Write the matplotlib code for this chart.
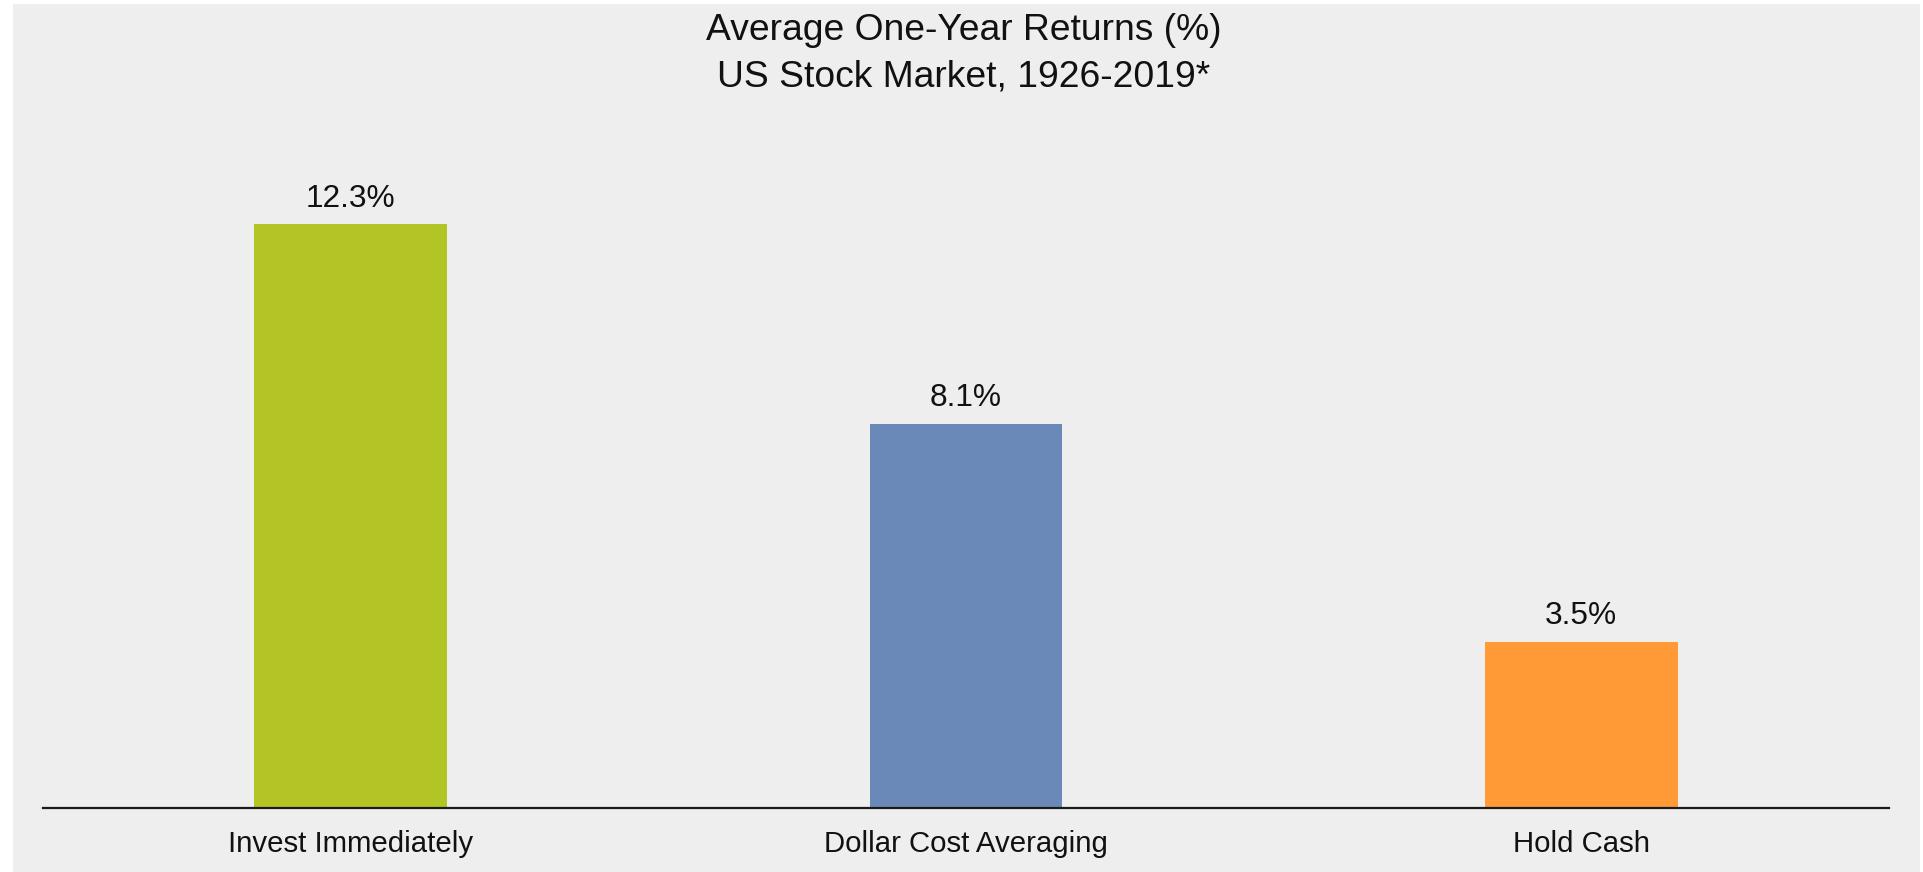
import matplotlib
matplotlib.use("Agg")
import matplotlib.pyplot as plt
from matplotlib.patches import Rectangle

# Data
strategies = ["Invest Immediately", "Dollar Cost Averaging", "Hold Cash"]
avg_returns = [12.3, 8.1, 3.5]
bar_colors = ["#B2C524", "#6A89B8", "#FF9A36"]
title_lines = ["Average One-Year Returns (%)", "US Stock Market, 1926-2019*"]

W, H = 1923, 872
plt.rcParams["font.family"] = ["Liberation Sans", "DejaVu Sans"]

fig = plt.figure(figsize=(W / 100, H / 100), dpi=100, facecolor="white")

# grey panel behind everything
panel = Rectangle((13 / W, 0), (1920 - 13) / W, (H - 4) / H,
                  transform=fig.transFigure, facecolor="#EEEEEE",
                  edgecolor="none", zorder=-10)
fig.add_artist(panel)

left, right = 43 / W, 1889 / W
bottom, top = (H - 808) / H, (H - 100) / H
ax = fig.add_axes([left, bottom, right - left, top - bottom])
ax.set_facecolor("none")

x = range(len(strategies))
bars = ax.bar(x, avg_returns, width=0.313, color=bar_colors, zorder=2)

ax.set_xlim(-0.5, len(strategies) - 0.5)
ax.set_ylim(0, 14.92)

for rect, val in zip(bars, avg_returns):
    ax.annotate(f"{val:.1f}%", (rect.get_x() + rect.get_width() / 2, val),
                xytext=(0, 7.5), textcoords="offset points",
                ha="center", va="bottom", fontsize=22.8, color="#111111")

ax.set_xticks(list(x))
ax.set_xticklabels(strategies, fontsize=21.2, color="#111111")
ax.tick_params(axis="x", length=0, pad=15.5)
ax.set_yticks([])

for side in ["top", "right", "left"]:
    ax.spines[side].set_visible(False)
ax.spines["bottom"].set_linewidth(1.6)
ax.spines["bottom"].set_color("#1A1A1A")
ax.spines["bottom"].set_zorder(3)

fig.text(964 / W, 1 - 31 / H, title_lines[0], ha="center", va="center",
         fontsize=26.8, color="#111111")
fig.text(964 / W, 1 - 77 / H, title_lines[1], ha="center", va="center",
         fontsize=26.8, color="#111111")

fig.savefig("out.png", dpi=100, facecolor="white")
